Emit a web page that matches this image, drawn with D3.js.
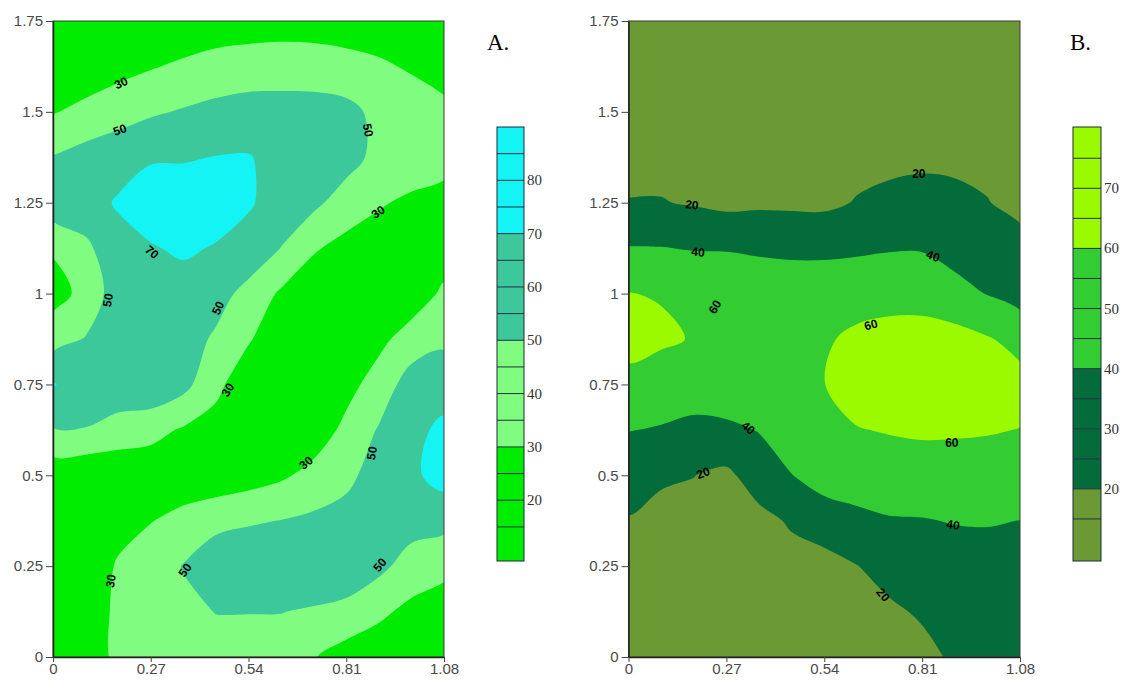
<!DOCTYPE html>
<html><head><meta charset="utf-8">
<script src="https://cdn.jsdelivr.net/npm/d3@7"></script>
<style>body{margin:0;background:#fff}svg{display:block}</style>
</head><body>
<svg id="c" width="1127" height="684"></svg>
<script>
// ---------- data ----------
const xStep = 0.09, yStep = 0.125, xMax = 1.08, yMax = 1.75;
const xTicks = [0, 0.27, 0.54, 0.81, 1.08];
const xTickLabels = ["0", "0.27", "0.54", "0.81", "1.08"];
const yTicks = [0, 0.25, 0.5, 0.75, 1, 1.25, 1.5, 1.75];
const yTickLabels = ["0", "0.25", "0.5", "0.75", "1", "1.25", "1.5", "1.75"];

// Panel A: rows from y=1.75 (top) down to y=0, columns x=0..1.08 step 0.09
const gridA = [
  [15, 10, 12, 17, 15, 19, 20.4, 21.5, 21, 19, 22.4, 20, 20],
  [22, 15.4, 23, 28.5, 33.4, 37.4, 39.3, 40, 39.6, 37.4, 32, 28.5, 23.2],
  [28.4, 36.4, 42.3, 47.5, 51.6, 55.5, 58.4, 58.5, 58.2, 55.5, 45, 37, 34],
  [51.1, 57, 61.5, 68, 68.5, 70.5, 71, 64, 62, 58, 44, 36, 35],
  [62.8, 62, 72, 80, 80, 80, 71.5, 64, 54.5, 40.7, 31, 28.1, 25],
  [32.3, 46, 63, 68.5, 73, 68.5, 64.7, 49.5, 32, 24, 25, 22, 19.5],
  [22, 36, 61, 62, 61.5, 58.6, 43, 27.3, 18, 20, 22, 18.6, 33.5],
  [42, 51, 60, 60, 60, 46.8, 31.8, 18, 15, 18, 25, 38.6, 46.8],
  [71, 62, 62, 66, 56, 34.8, 18, 15, 16, 23.7, 38.2, 59.3, 60],
  [48.9, 49.3, 42.6, 36, 28, 22.8, 16, 16, 19, 34.8, 51.6, 64, 74.7],
  [17.1, 14, 14, 18, 22, 17, 21, 26.9, 36.2, 45.5, 58, 66, 78],
  [15, 12, 20, 29.5, 34, 44, 48, 50.4, 53.7, 56.5, 60, 58, 55.9],
  [13, 11, 33, 38, 51, 63, 63.4, 60, 60, 65.6, 55, 41.6, 36.8],
  [12, 10, 37, 42, 45, 50.5, 50.5, 50.3, 48.6, 43.3, 34, 25, 17.4],
  [11, 10, 38, 42, 42, 42, 42, 44, 31, 21.8, 18, 20, 15]
];
const levelsA = [30, 50, 70];
const cbEdgesA = [8.6, 15, 20, 25, 30, 35, 40, 45, 50, 55, 60, 65, 70, 75, 80, 85, 90];
const cbLabelsA = [20, 30, 40, 50, 60, 70, 80];
const labelXA = [0.188, 0.185, 0.870, 0.898, 0.273, 0.152, 0.456, 0.483, 0.699, 0.881, 0.365, 0.903, 0.160];
const labelYA = [1.579, 1.450, 1.450, 1.224, 1.114, 0.982, 0.960, 0.735, 0.534, 0.561, 0.239, 0.253, 0.209];
const labelTextA = ["30", "50", "50", "30", "70", "50", "50", "30", "30", "50", "50", "50", "30"];
const labelAngleA = [-25, -20, 80, -35, 40, -80, -65, -58, -40, -80, -55, -50, -80];

// Panel B
const gridB = [
  [10, 10, 10, 10, 10, 10, 10, 10, 10, 10, 10, 10, 10],
  [11, 11, 12, 11, 11, 11, 11, 11, 11, 11, 11, 11, 11],
  [13, 13, 14, 12, 12, 12, 12, 12, 12, 13, 13, 13, 12],
  [15, 15, 16, 13, 14, 14, 14, 15, 13.6, 15.9, 15.5, 16, 13],
  [20.6, 20.75, 18.5, 15.4, 16.8, 16.7, 16.4, 21, 26.4, 27.3, 25.3, 20.6, 15.3],
  [40.8, 40.6, 39, 38.5, 37, 35, 35, 37, 38.7, 38.7, 33.5, 29.9, 25.7],
  [60.5, 58.5, 56, 57, 53, 54, 54, 52.8, 53, 53, 46, 39.3, 32.1],
  [66.8, 64, 58.5, 57, 56, 57, 58, 63.5, 67, 67.3, 67, 61.5, 54],
  [53.9, 47, 47.6, 55, 52, 56, 59.8, 66, 68, 70, 69, 66, 66],
  [40.4, 39.1, 36.3, 35.4, 41, 52, 55, 59.4, 61, 62, 62, 61.3, 59.6],
  [29.5, 21.9, 20.3, 16.4, 28.5, 39.6, 48.3, 51, 52, 53, 52, 51.4, 49.7],
  [18.6, 16, 15, 14, 15, 22, 30.2, 34.7, 38.5, 39, 40.9, 41.3, 39.8],
  [15, 13, 13, 12, 13, 14, 13, 19.5, 27.4, 31, 31.4, 32, 33],
  [12, 11, 11, 11, 11, 11, 11, 15, 16.8, 22.4, 27, 28, 29],
  [10, 10, 10, 10, 10, 10, 10, 12, 14, 14.4, 23, 26, 27]
];
const levelsB = [20, 40, 60];
const cbEdgesB = [8, 15, 20, 25, 30, 35, 40, 45, 50, 55, 60, 65, 70, 75, 80.2];
const cbLabelsB = [20, 30, 40, 50, 60, 70];
const labelXB = [0.175, 0.801, 0.192, 0.840, 0.239, 0.669, 0.330, 0.892, 0.206, 0.895, 0.702];
const labelYB = [1.244, 1.329, 1.114, 1.103, 0.963, 0.914, 0.630, 0.589, 0.506, 0.363, 0.171];
const labelTextB = ["20", "20", "40", "40", "60", "60", "40", "60", "20", "40", "20"];
const labelAngleB = [5, 0, 5, 20, -60, -15, 40, 0, -20, 8, 50];

// ---------- drawing ----------
const svg = d3.select("#c");
svg.append("rect").attr("width", 1127).attr("height", 684).attr("fill", "#fff");
const yScale = d3.scaleLinear([0, yMax], [657, 21]);

const panels = [
  { id: "A", grid: gridA, levels: levelsA, colors: ["#00ec00", "#80fc80", "#3cc89a", "#14f4f4"],
    x: d3.scaleLinear([0, xMax], [53, 444]),
    lx: labelXA, ly: labelYA, lt: labelTextA, la: labelAngleA,
    cbEdges: cbEdgesA, cbLabels: cbLabelsA, cbX: 497, cbW: 27, letterX: 487 },
  { id: "B", grid: gridB, levels: levelsB, colors: ["#6b9a35", "#046c3b", "#33cc33", "#9bfa00"],
    x: d3.scaleLinear([0, xMax], [628.5, 1020]),
    lx: labelXB, ly: labelYB, lt: labelTextB, la: labelAngleB,
    cbEdges: cbEdgesB, cbLabels: cbLabelsB, cbX: 1073, cbW: 28, letterX: 1070 }
];

const line = d3.line().curve(d3.curveCatmullRomClosed.alpha(0.5));

panels.forEach(p => {
  const g = svg.append("g");
  const [px0, px1] = p.x.range();
  const clipId = "clip" + p.id;
  svg.append("clipPath").attr("id", clipId).append("rect")
    .attr("x", px0).attr("y", yScale(yMax)).attr("width", px1 - px0).attr("height", yScale(0) - yScale(yMax));
  const field = g.append("g").attr("clip-path", `url(#${clipId})`);
  field.append("rect").attr("x", px0).attr("y", yScale(yMax))
    .attr("width", px1 - px0).attr("height", yScale(0) - yScale(yMax)).attr("fill", p.colors[0]);

  const nx = p.grid[0].length, ny = p.grid.length;
  const contours = d3.contours().size([nx, ny]).thresholds(p.levels)(p.grid.flat());
  const toPx = ([cx, cy]) => [p.x((cx - 0.5) * xStep), yScale(yMax - (cy - 0.5) * yStep)];
  contours.forEach((c, i) => {
    let d = "";
    c.coordinates.forEach(poly => poly.forEach(ring => {
      const pts = ring.slice(0, -1).map(toPx);
      if (pts.length > 2) d += line(pts);
    }));
    field.append("path").attr("d", d).attr("fill", p.colors[i + 1]).attr("fill-rule", "evenodd");
  });

  // contour labels
  const lab = g.append("g").attr("font-family", "Liberation Sans, Arial, sans-serif")
    .attr("font-size", 12).attr("font-weight", "bold").attr("fill", "#000");
  p.lt.forEach((t, i) => {
    lab.append("text")
      .attr("transform", `translate(${p.x(p.lx[i])},${yScale(p.ly[i])}) rotate(${p.la[i]})`)
      .attr("text-anchor", "middle").attr("dominant-baseline", "central").text(t);
  });

  // frame
  g.append("rect").attr("x", px0).attr("y", yScale(yMax)).attr("width", px1 - px0)
    .attr("height", yScale(0) - yScale(yMax)).attr("fill", "none").attr("stroke", "#3a3a3a").attr("stroke-width", 1);

  // axes
  const ax = g.append("g").attr("transform", `translate(${px0},0)`)
    .call(d3.axisLeft(yScale).tickValues(yTicks).tickFormat((d, i) => yTickLabels[i]).tickSize(7).tickSizeOuter(0).tickPadding(3));
  const bx = g.append("g").attr("transform", `translate(0,${yScale(0)})`)
    .call(d3.axisBottom(p.x).tickValues(xTicks).tickFormat((d, i) => xTickLabels[i]).tickSize(5).tickSizeOuter(0).tickPadding(1));
  [ax, bx].forEach(a => {
    a.selectAll("text").attr("font-family", "Liberation Sans, Arial, sans-serif").attr("font-size", 15).attr("fill", "#4a4a4a");
    a.selectAll("line").attr("stroke", "#444");
    a.select(".domain").attr("stroke", "#222").attr("stroke-width", 1.5);
  });

  // colour bar
  const cbY = d3.scaleLinear([p.cbEdges[0], p.cbEdges[p.cbEdges.length - 1]], [561, 127]);
  const colorOf = d3.scaleThreshold().domain(p.levels).range(p.colors);
  const cb = g.append("g");
  for (let i = 0; i < p.cbEdges.length - 1; i++) {
    const a = p.cbEdges[i], b = p.cbEdges[i + 1];
    cb.append("rect").attr("x", p.cbX).attr("y", cbY(b)).attr("width", p.cbW)
      .attr("height", cbY(a) - cbY(b)).attr("fill", colorOf((a + b) / 2));
  }
  p.cbEdges.slice(1, -1).forEach(v => {
    cb.append("line").attr("x1", p.cbX).attr("x2", p.cbX + p.cbW).attr("y1", cbY(v)).attr("y2", cbY(v))
      .attr("stroke", "#1c3040").attr("stroke-width", 1);
  });
  cb.append("rect").attr("x", p.cbX).attr("y", cbY(p.cbEdges[p.cbEdges.length - 1])).attr("width", p.cbW)
    .attr("height", cbY(p.cbEdges[0]) - cbY(p.cbEdges[p.cbEdges.length - 1]))
    .attr("fill", "none").attr("stroke", "#1c2a36").attr("stroke-width", 1);
  p.cbLabels.forEach(v => {
    cb.append("text").attr("x", p.cbX + p.cbW + 3).attr("y", cbY(v)).attr("dominant-baseline", "central")
      .attr("font-family", "Liberation Serif, Times New Roman, serif").attr("font-size", 15).attr("fill", "#333").text(v);
  });

  // panel letter
  g.append("text").attr("x", p.letterX).attr("y", 50).attr("font-family", "Liberation Serif, Times New Roman, serif")
    .attr("font-size", 23).attr("fill", "#000").text(p.id + ".");
});
</script>
</body></html>
